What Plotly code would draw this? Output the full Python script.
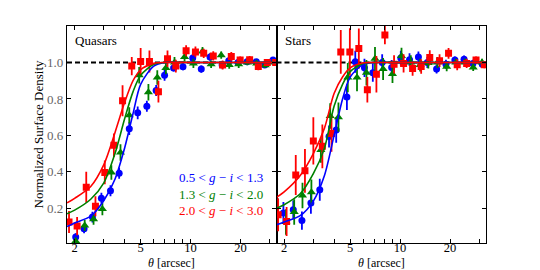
import plotly.graph_objects as go
from plotly.subplots import make_subplots

# ---------------- data ----------------
# Quasars panel
q_red_theta = [1.85, 2.07, 2.35, 2.67, 3.04, 3.45, 3.89, 4.42, 5.0, 5.65, 6.4, 7.26, 8.15, 9.4, 10.7, 12.0, 13.7, 15.6, 17.6, 19.9, 22.7, 25.6, 29.0, 32.6]
q_red_val = [0.125, 0.103, 0.316, 0.212, 0.397, 0.546, 0.79, 0.98, 1.005, 1.005, 0.84, 1.02, 0.98, 1.064, 1.058, 1.05, 1.036, 0.986, 1.033, 1.013, 1.015, 0.978, 1.0, 1.0]
q_red_err = [0.06, 0.05, 0.085, 0.055, 0.065, 0.065, 0.085, 0.05, 0.075, 0.06, 0.06, 0.045, 0.035, 0.03, 0.03, 0.025, 0.025, 0.025, 0.025, 0.02, 0.02, 0.02, 0.015, 0.015]

q_blue_theta = [2.03, 2.28, 2.56, 2.9, 3.29, 3.71, 4.27, 4.8, 5.45, 6.2, 6.97, 7.9, 9.0, 10.3, 11.6, 13.1, 15.5, 17.0, 19.3, 21.9, 24.9, 28.0, 31.4]
q_blue_val = [0.043, 0.088, 0.152, 0.256, 0.297, 0.392, 0.637, 0.724, 0.76, 0.846, 0.93, 0.97, 0.977, 1.024, 0.964, 1.03, 0.986, 1.01, 1.0, 1.004, 1.004, 0.986, 1.013]
q_blue_err = [0.02, 0.025, 0.03, 0.03, 0.03, 0.03, 0.035, 0.035, 0.03, 0.03, 0.03, 0.02, 0.02, 0.02, 0.02, 0.02, 0.015, 0.015, 0.015, 0.015, 0.012, 0.012, 0.012]

q_green_theta = [2.03, 2.3, 2.6, 2.94, 3.33, 3.78, 4.27, 4.9, 5.57, 6.3, 7.1, 8.0, 9.2, 10.4, 11.8, 13.3, 15.3, 17.1, 19.5, 22.0, 25.0, 28.2, 31.5]
q_green_val = [0.02, 0.106, 0.14, 0.197, 0.397, 0.506, 0.71, 0.93, 0.837, 0.918, 0.97, 1.0, 1.03, 0.995, 1.06, 0.99, 1.04, 0.986, 0.99, 1.0, 0.995, 0.985, 1.0]
q_green_err = [0.02, 0.03, 0.03, 0.035, 0.04, 0.045, 0.045, 0.045, 0.045, 0.04, 0.035, 0.03, 0.025, 0.025, 0.025, 0.02, 0.02, 0.02, 0.02, 0.015, 0.015, 0.015, 0.015]

# Stars panel
s_red_theta = [1.84, 2.07, 2.35, 2.67, 3.0, 3.4, 3.86, 4.39, 4.98, 5.64, 6.35, 7.2, 8.1, 9.2, 10.5, 11.9, 13.4, 15.1, 17.3, 19.6, 22.1, 25.2, 28.7, 32.2]
s_red_val = [0.165, 0.128, 0.383, 0.406, 0.57, 0.54, 0.61, 1.058, 1.057, 1.076, 0.85, 0.935, 1.15, 0.99, 0.995, 0.967, 0.978, 1.027, 1.01, 1.05, 0.988, 0.995, 1.013, 0.988]
s_red_err = [0.09, 0.08, 0.11, 0.12, 0.13, 0.12, 0.1, 0.12, 0.13, 0.11, 0.07, 0.1, 0.05, 0.05, 0.05, 0.04, 0.04, 0.04, 0.035, 0.03, 0.03, 0.025, 0.02, 0.02]

s_blue_theta = [1.98, 2.27, 2.56, 2.9, 3.28, 3.73, 4.12, 4.78, 5.37, 6.1, 6.85, 7.8, 8.9, 10.1, 11.4, 12.9, 14.6, 16.6, 18.9, 21.4, 24.3, 27.5, 31.3]
s_blue_val = [0.175, 0.193, 0.133, 0.23, 0.302, 0.594, 0.63, 0.81, 1.004, 0.971, 0.944, 1.0, 0.973, 1.024, 1.015, 1.03, 1.0, 0.964, 0.99, 1.013, 1.018, 0.995, 0.99]
s_blue_err = [0.06, 0.05, 0.05, 0.06, 0.06, 0.06, 0.07, 0.07, 0.06, 0.05, 0.05, 0.045, 0.04, 0.04, 0.035, 0.03, 0.03, 0.025, 0.025, 0.02, 0.02, 0.02, 0.015]

s_green_theta = [2.05, 2.3, 2.58, 2.92, 3.33, 3.79, 4.25, 4.84, 5.5, 6.27, 7.06, 7.9, 9.0, 10.2, 11.6, 13.2, 14.8, 16.8, 19.1, 21.7, 24.6, 27.6, 31.2]
s_green_val = [0.125, 0.18, 0.27, 0.288, 0.52, 0.706, 0.70, 0.917, 0.917, 0.944, 1.02, 0.964, 0.937, 1.036, 1.0, 0.986, 0.997, 1.0, 0.977, 1.0, 1.0, 0.973, 1.0]
s_green_err = [0.07, 0.07, 0.07, 0.07, 0.07, 0.07, 0.08, 0.08, 0.075, 0.07, 0.065, 0.06, 0.05, 0.045, 0.04, 0.035, 0.03, 0.03, 0.025, 0.02, 0.02, 0.02, 0.02]

# fitted model curves
fit_theta = [1.8, 2.0, 2.5, 3.0, 3.5, 4.0, 4.5, 5.0, 6.0, 7.0, 10.0, 33.0]
q_blue_fit = [0.10, 0.12, 0.157, 0.243, 0.36, 0.53, 0.72, 0.88, 0.98, 1.0, 1.0, 1.0]
q_green_fit = [0.17, 0.19, 0.25, 0.34, 0.50, 0.69, 0.84, 0.93, 0.99, 1.0, 1.0, 1.0]
q_red_fit = [0.23, 0.255, 0.32, 0.44, 0.615, 0.78, 0.90, 0.96, 0.995, 1.0, 1.0, 1.0]
s_blue_fit = [0.11, 0.125, 0.16, 0.24, 0.38, 0.60, 0.80, 0.92, 0.99, 1.0, 1.0, 1.0]
s_green_fit = [0.20, 0.22, 0.28, 0.39, 0.53, 0.76, 0.88, 0.95, 0.995, 1.0, 1.0, 1.0]
s_red_fit = [0.26, 0.29, 0.38, 0.50, 0.64, 0.83, 0.92, 0.97, 0.998, 1.0, 1.0, 1.0]

panel_names = ["Quasars", "Stars"]
legend_labels = ["0.5 &lt; <i>g</i> − <i>i</i> &lt; 1.3",
                 "1.3 &lt; <i>g</i> − <i>i</i> &lt; 2.0",
                 "2.0 &lt; <i>g</i> − <i>i</i> &lt; 3.0"]
x_tickvals = [2, 3, 4, 5, 6, 7, 8, 9, 10, 20, 30]
x_ticktext = ["2", "", "", "5", "", "", "", "", "10", "20", ""]
y_tickvals = [0.2, 0.4, 0.6, 0.8, 1.0]
y_ticktext = ["0.2", "0.4", "0.6", "0.8", "1.0"]

# ---------------- styling ----------------
BLUE = "#0000ff"
GREEN = "#008000"
RED = "#ff0000"
FONT = "Liberation Serif, DejaVu Serif, Times New Roman, serif"

fig = make_subplots(rows=1, cols=2, shared_yaxes=True, horizontal_spacing=0)

panels = [
    (1, [(q_blue_theta, q_blue_val, q_blue_err, q_blue_fit, BLUE, "circle", 7),
         (q_green_theta, q_green_val, q_green_err, q_green_fit, GREEN, "triangle-up", 8),
         (q_red_theta, q_red_val, q_red_err, q_red_fit, RED, "square", 7)]),
    (2, [(s_blue_theta, s_blue_val, s_blue_err, s_blue_fit, BLUE, "circle", 7),
         (s_green_theta, s_green_val, s_green_err, s_green_fit, GREEN, "triangle-up", 8),
         (s_red_theta, s_red_val, s_red_err, s_red_fit, RED, "square", 7)]),
]

for col, series in panels:
    for th, v, e, fit, c, sym, sz in series:
        fig.add_trace(go.Scatter(x=th, y=v, mode="markers",
                                 marker=dict(color=c, symbol=sym, size=sz, line=dict(width=0)),
                                 error_y=dict(type="data", array=e, color=c, thickness=1.8, width=0),
                                 showlegend=False), row=1, col=col)
    for th, v, e, fit, c, sym, sz in series:
        fig.add_trace(go.Scatter(x=fit_theta, y=fit, mode="lines",
                                 line=dict(color=c, width=1.6, shape="spline", smoothing=0.8),
                                 showlegend=False), row=1, col=col)
    fig.add_shape(type="line", xref=("x" if col == 1 else "x2") + " domain", x0=0, x1=1,
                  yref="y" if col == 1 else "y2", y0=1.0, y1=1.0,
                  line=dict(color="black", width=2, dash="5px,3px"), layer="below")

axis_common = dict(showline=True, linecolor="black", linewidth=1.3, mirror="ticks",
                   ticks="inside", ticklen=4, tickwidth=1, tickcolor="black",
                   showgrid=False, zeroline=False, automargin=False)

for ax in ["xaxis", "xaxis2"]:
    fig.layout[ax].update(type="log", range=[0.255, 1.518], tickvals=x_tickvals,
                          ticktext=x_ticktext, tickfont=dict(family=FONT, size=12.5, color="black"),
                          ticklabelstandoff=-7, **axis_common)
fig.layout.yaxis.update(range=[0.01, 1.2], tickvals=y_tickvals, ticktext=y_ticktext,
                        tickfont=dict(family=FONT, size=13, color="#666666"),
                        title=dict(text="Normalized Surface Density",
                                   font=dict(family=FONT, size=13, color="black"), standoff=0),
                        **axis_common)
fig.layout.yaxis2.update(range=[0.01, 1.2], tickvals=y_tickvals, showticklabels=False, **axis_common)

fig.update_layout(width=540, height=270, margin=dict(l=67, r=54, t=26, b=27),
                  paper_bgcolor="white", plot_bgcolor="white",
                  font=dict(family=FONT, size=13, color="black"))

# panel names
for i, name in enumerate(panel_names):
    fig.add_annotation(text=name, xref=("x" if i == 0 else "x2") + " domain", yref="paper",
                       x=0.03, y=0.935, xanchor="left", yanchor="middle", showarrow=False,
                       font=dict(family=FONT, size=13, color="black"))
    fig.add_annotation(text="<i>θ</i> [arcsec]", xref=("x" if i == 0 else "x2") + " domain",
                       yref="paper", x=0.5, y=0, yshift=-20, xanchor="center", yanchor="middle",
                       showarrow=False, font=dict(family=FONT, size=12, color="black"))

# colour legend text
for lbl, c, yy in zip(legend_labels, [BLUE, GREEN, RED], [0.301, 0.225, 0.150]):
    fig.add_annotation(text=lbl, xref="x domain", yref="paper", x=0.947, y=yy,
                       xanchor="right", yanchor="middle", showarrow=False,
                       font=dict(family=FONT, size=13, color=c))

fig.write_html("out.html", config={"displayModeBar": False},
               post_script="document.body.style.margin='0';document.body.style.overflow='hidden';")
